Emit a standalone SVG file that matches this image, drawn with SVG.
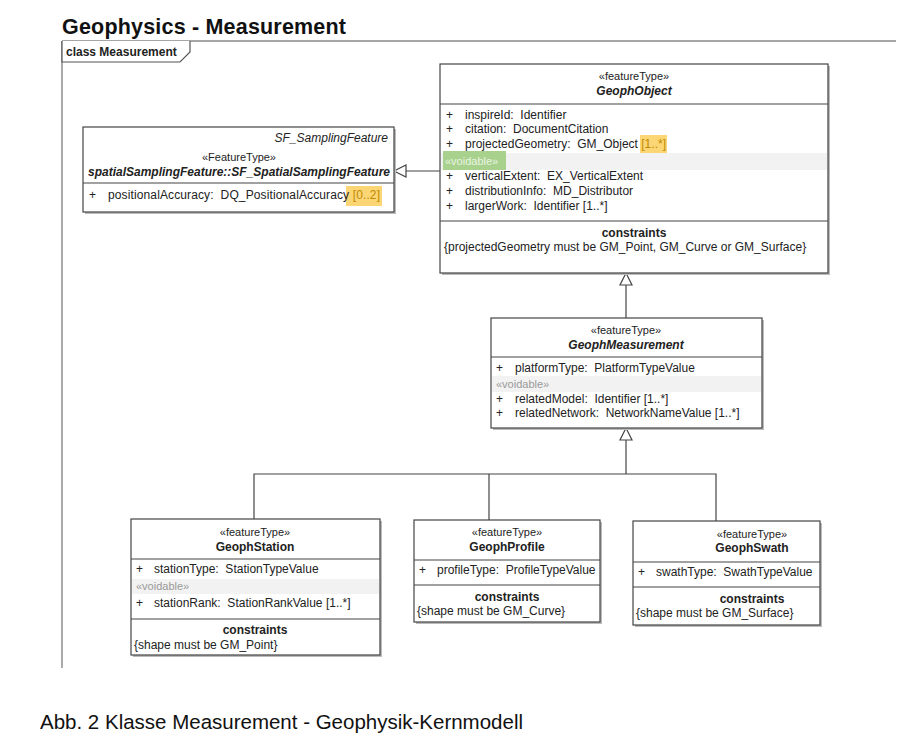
<svg xmlns="http://www.w3.org/2000/svg" width="912" height="742" viewBox="0 0 912 742">
<defs>
<style>
text{font-family:"Liberation Sans",Arial,sans-serif;fill:#222;}
.t{font-size:12px;}
.c{text-anchor:middle;}
.b{font-weight:bold;}
.i{font-style:italic;}
.s{font-size:11px;}
.v{fill:#999;font-size:11px;}
.box{fill:#fff;stroke:#444;stroke-width:1.2;}
.sh{fill:#bbb;}
.sep{stroke:#444;stroke-width:1.2;}
.vb{fill:#f2f2f2;}
.con{stroke:#444;stroke-width:1.2;fill:none;}
.tri{fill:#fff;stroke:#444;stroke-width:1.2;}
.hl{fill:#fcd575;}
.ht{fill:#c08a00;}
</style>
</defs>
<rect width="912" height="742" fill="#fff"/>
<g id="frame">
<text x="62" y="34" textLength="284" style="font-size:21.5px;font-weight:bold;fill:#111">Geophysics - Measurement</text>
<line x1="62" y1="41" x2="896" y2="41" stroke="#888" stroke-width="1.5"/>
<line x1="62" y1="41" x2="62" y2="668" stroke="#aaa" stroke-width="2"/>
<path d="M62,41 V62 H180 L190,52 V41" fill="#fff" stroke="#555" stroke-width="1.2"/>
<text x="66" y="56" class="b" style="font-size:12px">class Measurement</text>
</g>
<g id="connectors">
<line x1="440" y1="171" x2="406" y2="171" class="con"/>
<polygon points="394,171 406,165 406,177" class="tri"/>
<line x1="626" y1="318" x2="626" y2="285" class="con"/>
<polygon points="626,273 620,285 632,285" class="tri"/>
<polyline points="626,440 626,474" class="con"/>
<polygon points="626,428 620,440 632,440" class="tri"/>
<polyline points="254,519 254,474 716,474 716,521" class="con"/>
<line x1="489" y1="474" x2="489" y2="520" class="con"/>
</g>
<g id="GeophObject">
<rect x="442" y="66" width="388" height="209" class="sh"/>
<rect x="440" y="64" width="388" height="209" class="box"/>
<text x="634" y="80" class="t c s">«featureType»</text>
<text x="634" y="95" class="t c b i">GeophObject</text>
<line x1="440" y1="104" x2="828" y2="104" class="sep"/>
<text x="446" y="119" class="t">+</text><text x="465" y="119" class="t">inspireId:&#160; Identifier</text>
<text x="446" y="133" class="t">+</text><text x="465" y="133" class="t">citation:&#160; DocumentCitation</text>
<rect x="640" y="135" width="27" height="18" class="hl"/>
<text x="446" y="148" class="t">+</text><text x="465" y="148" class="t" textLength="201">projectedGeometry:&#160; GM_Object <tspan class="ht">[1..*]</tspan></text>
<rect x="441" y="153" width="386" height="17" class="vb"/>
<rect x="443" y="151" width="63" height="19" fill="#a9d18e"/>
<text x="445" y="165" class="v" style="fill:#e8f4e0">«voidable»</text>
<text x="446" y="180" class="t">+</text><text x="465" y="180" class="t">verticalExtent:&#160; EX_VerticalExtent</text>
<text x="446" y="195" class="t">+</text><text x="465" y="195" class="t">distributionInfo:&#160; MD_Distributor</text>
<text x="446" y="210" class="t">+</text><text x="465" y="210" class="t">largerWork:&#160; Identifier [1..*]</text>
<line x1="440" y1="221" x2="828" y2="221" class="sep"/>
<text x="634" y="237" class="t c b">constraints</text>
<text x="444" y="251" class="t">{projectedGeometry must be GM_Point, GM_Curve or GM_Surface}</text>
</g>
<g id="SF_SpatialSamplingFeature">
<rect x="85" y="129" width="311" height="85" class="sh"/>
<rect x="83" y="127" width="311" height="85" class="box"/>
<text x="388" y="142" class="t i" style="text-anchor:end">SF_SamplingFeature</text>
<text x="239" y="161" class="t c s">«FeatureType»</text>
<text x="239" y="176" class="t c b i">spatialSamplingFeature::SF_SpatialSamplingFeature</text>
<line x1="83" y1="183" x2="394" y2="183" class="sep"/>
<rect x="346" y="186" width="36" height="20" class="hl"/>
<text x="89" y="199" class="t">+</text><text x="108" y="199" class="t" textLength="272">positionalAccuracy:&#160; DQ_PositionalAccuracy <tspan class="ht">[0..2]</tspan></text>
</g>
<g id="GeophMeasurement">
<rect x="493" y="320" width="271" height="110" class="sh"/>
<rect x="491" y="318" width="271" height="110" class="box"/>
<text x="626" y="334" class="t c s">«featureType»</text>
<text x="626" y="349" class="t c b i">GeophMeasurement</text>
<line x1="491" y1="357" x2="762" y2="357" class="sep"/>
<text x="496" y="372" class="t">+</text><text x="515" y="372" class="t">platformType:&#160; PlatformTypeValue</text>
<rect x="492" y="376" width="269" height="16" class="vb"/>
<text x="496" y="388" class="v">«voidable»</text>
<text x="496" y="403" class="t">+</text><text x="515" y="403" class="t">relatedModel:&#160; Identifier [1..*]</text>
<text x="496" y="417" class="t">+</text><text x="515" y="417" class="t">relatedNetwork:&#160; NetworkNameValue [1..*]</text>
</g>
<g id="GeophStation">
<rect x="133" y="521" width="249" height="136" class="sh"/>
<rect x="131" y="519" width="249" height="136" class="box"/>
<text x="255" y="536" class="t c s">«featureType»</text>
<text x="255" y="551" class="t c b">GeophStation</text>
<line x1="131" y1="559" x2="380" y2="559" class="sep"/>
<text x="136" y="573" class="t">+</text><text x="154" y="573" class="t">stationType:&#160; StationTypeValue</text>
<rect x="132" y="579" width="247" height="15" class="vb"/>
<text x="136" y="590" class="v">«voidable»</text>
<text x="136" y="607" class="t">+</text><text x="154" y="607" class="t">stationRank:&#160; StationRankValue [1..*]</text>
<line x1="131" y1="619" x2="380" y2="619" class="sep"/>
<text x="255" y="634" class="t c b">constraints</text>
<text x="134" y="649" class="t">{shape must be GM_Point}</text>
</g>
<g id="GeophProfile">
<rect x="416" y="522" width="186" height="102" class="sh"/>
<rect x="414" y="520" width="186" height="102" class="box"/>
<text x="507" y="536" class="t c s">«featureType»</text>
<text x="507" y="551" class="t c b">GeophProfile</text>
<line x1="414" y1="560" x2="600" y2="560" class="sep"/>
<text x="419" y="574" class="t">+</text><text x="437" y="574" class="t">profileType:&#160; ProfileTypeValue</text>
<line x1="414" y1="585" x2="600" y2="585" class="sep"/>
<text x="507" y="601" class="t c b">constraints</text>
<text x="417" y="615" class="t">{shape must be GM_Curve}</text>
</g>
<g id="GeophSwath">
<rect x="635" y="523" width="187" height="104" class="sh"/>
<rect x="633" y="521" width="187" height="104" class="box"/>
<text x="752" y="538" class="t c s">«featureType»</text>
<text x="752" y="552" class="t c b">GeophSwath</text>
<line x1="633" y1="562" x2="820" y2="562" class="sep"/>
<text x="638" y="576" class="t">+</text><text x="656" y="576" class="t">swathType:&#160; SwathTypeValue</text>
<line x1="633" y1="587" x2="820" y2="587" class="sep"/>
<text x="752" y="603" class="t c b">constraints</text>
<text x="636" y="617" class="t">{shape must be GM_Surface}</text>
</g>
<text x="40" y="729" textLength="483" style="font-size:20.5px;fill:#111">Abb. 2 Klasse Measurement - Geophysik-Kernmodell</text>
</svg>
